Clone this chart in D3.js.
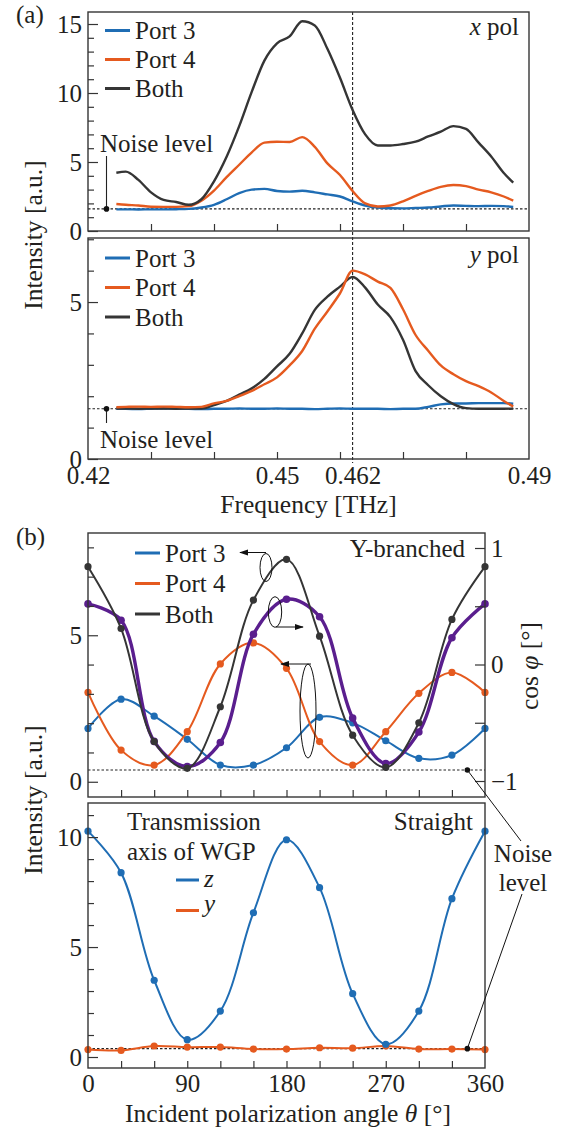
<!DOCTYPE html>
<html>
<head>
<meta charset="utf-8">
<script src="https://cdn.jsdelivr.net/npm/d3@7"></script>
<style>
body { margin: 0; background: #fff; }
</style>
</head>
<body>
<svg id="chart" width="563" height="1131"></svg>
<script>
// ---- (a) spectra, frequency in THz ----
var freq = [0.4245, 0.426, 0.428, 0.430, 0.432, 0.434, 0.436, 0.438, 0.440, 0.442, 0.444,
    0.446, 0.448, 0.450, 0.452, 0.454, 0.456, 0.458, 0.460, 0.462, 0.464, 0.466, 0.468,
    0.470, 0.472, 0.474, 0.476, 0.478, 0.480, 0.482, 0.484, 0.486, 0.4875];

var xPolPort3 = [1.57, 1.57, 1.56, 1.57, 1.57, 1.58, 1.6, 1.7, 1.9, 2.3, 2.75, 3.0, 3.05, 2.9,
    2.85, 2.92, 2.8, 2.65, 2.5, 2.15, 1.85, 1.7, 1.65, 1.64, 1.67, 1.7, 1.78, 1.85, 1.82,
    1.8, 1.82, 1.8, 1.75];
var xPolPort4 = [1.96, 1.9, 1.85, 1.76, 1.75, 1.75, 1.8, 2.2, 2.93, 3.9, 4.8, 5.7, 6.4, 6.47,
    6.45, 6.8, 6.1, 4.9, 4.06, 2.9, 2.0, 1.78, 1.85, 2.15, 2.55, 2.9, 3.2, 3.33, 3.25, 3.0,
    2.8, 2.5, 2.2];
var xPolBoth = [4.22, 4.3, 3.7, 2.8, 2.25, 2.1, 1.9, 2.3, 3.6, 5.38, 7.6, 10.1, 12.35, 13.6,
    14.1, 15.2, 14.9, 13.2, 11.1, 8.77, 7.0, 6.2, 6.2, 6.3, 6.47, 6.85, 7.2, 7.6, 7.4, 6.4,
    5.4, 4.2, 3.5];

var yPolPort3 = [1.6, 1.6, 1.59, 1.6, 1.61, 1.6, 1.6, 1.59, 1.6, 1.6, 1.61, 1.6, 1.6, 1.61,
    1.6, 1.6, 1.59, 1.6, 1.61, 1.6, 1.6, 1.6, 1.59, 1.6, 1.6, 1.66, 1.74, 1.77, 1.77, 1.78,
    1.78, 1.78, 1.76];
var yPolPort4 = [1.65, 1.66, 1.67, 1.66, 1.67, 1.66, 1.65, 1.66, 1.77, 1.85, 2.0, 2.17, 2.38,
    2.6, 2.98, 3.44, 4.15, 4.7, 5.28, 6.0, 5.88, 5.65, 5.45, 4.77, 3.95, 3.45, 2.98, 2.7,
    2.48, 2.32, 2.12, 1.85, 1.67];
var yPolBoth = [1.61, 1.61, 1.6, 1.61, 1.61, 1.6, 1.61, 1.61, 1.72, 1.85, 2.05, 2.25, 2.55,
    2.95, 3.35, 4.0, 4.75, 5.17, 5.49, 5.8, 5.46, 4.92, 4.52, 3.8, 2.8, 2.35, 2.0, 1.75,
    1.62, 1.6, 1.6, 1.6, 1.61];

var noiseA = 1.6;

// ---- (b) vs incident polarization angle ----
var angles = [0, 30, 60, 90, 120, 150, 180, 210, 240, 270, 300, 330, 360];
var ybPort3 = [1.82, 2.82, 2.24, 1.45, 0.57, 0.57, 1.16, 2.2, 2.01, 1.4, 0.8, 0.91, 1.82];
var ybPort4 = [3.05, 1.08, 0.57, 1.71, 4.02, 4.74, 3.87, 1.37, 0.57, 1.71, 3.02, 3.73, 3.05];
var ybBoth = [7.34, 5.23, 1.37, 0.46, 2.56, 6.2, 7.59, 4.97, 1.59, 0.49, 2.01, 5.54, 7.34];
var cosPhi = [0.52, 0.38, -0.66, -0.876, -0.67, 0.26, 0.56, 0.41, -0.46, -0.85, -0.58, 0.23, 0.52];
var straightZ = [10.27, 8.38, 3.49, 0.79, 2.09, 6.56, 9.88, 7.7, 2.88, 0.58, 2.09, 7.2, 10.27];
var straightY = [0.34, 0.3, 0.5, 0.45, 0.45, 0.36, 0.36, 0.42, 0.4, 0.5, 0.36, 0.36, 0.34];
var noiseYB = 0.4;
var noiseStraight = 0.38;
var noiseAngle = 344;

var blue = "#1f6db4", orange = "#e55a1f", dark = "#353535", purple = "#5a1e8e";
var textColor = "#231f20";
var serif = "Liberation Serif";

var svg = d3.select("#chart");

var xA = d3.scaleLinear().domain([0.42, 0.49]).range([88, 529]);
var yA1 = d3.scaleLinear().domain([0, 15.87]).range([231, 12]);
var yA2 = d3.scaleLinear().domain([0, 7.04]).range([459, 238]);
var xB = d3.scaleLinear().domain([0, 360]).range([88, 485]);
var yB1 = d3.scaleLinear().domain([-0.52, 8.49]).range([797, 533]);
var yCos = d3.scaleLinear().domain([-1, 1]).range([781, 548]);
var yB2 = d3.scaleLinear().domain([-0.5, 11.55]).range([1068, 803]);

function styleAxis(g) {
    g.attr("font-family", serif).attr("font-size", 25);
    g.select(".domain").remove();
    g.selectAll(".tick line").attr("stroke", dark).attr("stroke-width", 1.2);
    g.selectAll("text").attr("font-family", serif).attr("font-size", 25).attr("fill", textColor);
}

// left axis, every unit, label every 5
function leftAxis(y, max, x0) {
    var g = svg.append("g")
        .attr("transform", `translate(${x0},0)`)
        .call(d3.axisLeft(y).tickValues(d3.range(0, max + 1)).tickSize(-6).tickPadding(6)
            .tickFormat(d => d % 5 === 0 ? d : ""));
    styleAxis(g);
    g.selectAll(".tick line").filter(d => d % 5 === 0).attr("x2", 10);
}

function bottomTicks(x, vals, y0) {
    var g = svg.append("g")
        .attr("transform", `translate(0,${y0})`)
        .call(d3.axisBottom(x).tickValues(vals).tickSize(-7).tickFormat(""));
    styleAxis(g);
}

function bottomLabels(x, vals, y0, fmt) {
    var g = svg.append("g")
        .attr("transform", `translate(0,${y0})`)
        .call(d3.axisBottom(x).tickValues(vals).tickSize(0).tickPadding(6).tickFormat(fmt));
    styleAxis(g);
    g.selectAll(".tick line").remove();
}

function frame(x, y) {
    svg.append("rect")
        .attr("x", x.range()[0]).attr("y", y.range()[1])
        .attr("width", x.range()[1] - x.range()[0])
        .attr("height", y.range()[0] - y.range()[1])
        .attr("fill", "none").attr("stroke", dark).attr("stroke-width", 1.4);
}

function noiseLine(x, y, v) {
    svg.append("line")
        .attr("x1", x.range()[0]).attr("x2", x.range()[1])
        .attr("y1", y(v)).attr("y2", y(v))
        .attr("stroke", "#222").attr("stroke-width", 1.1).attr("stroke-dasharray", "2.5,2");
}

function spectrum(vals, y, color) {
    var line = d3.line().x((d, i) => xA(freq[i])).y(d => y(d)).curve(d3.curveMonotoneX);
    svg.append("path").attr("d", line(vals))
        .attr("fill", "none").attr("stroke", color).attr("stroke-width", 2.4);
}

function angleSeries(vals, y, color, w, r) {
    var line = d3.line().x((d, i) => xB(angles[i])).y(d => y(d)).curve(d3.curveCatmullRom);
    svg.append("path").attr("d", line(vals))
        .attr("fill", "none").attr("stroke", color).attr("stroke-width", w);
    svg.append("g").selectAll("circle").data(vals).enter().append("circle")
        .attr("cx", (d, i) => xB(angles[i])).attr("cy", d => y(d))
        .attr("r", r).attr("fill", color);
}

function label(x, y, txt, anchor, size) {
    return svg.append("text").attr("x", x).attr("y", y)
        .attr("text-anchor", anchor || "start")
        .attr("font-family", serif).attr("fill", textColor)
        .attr("font-size", size || 25).text(txt);
}

function vlabel(x, y, size) {
    return svg.append("text").attr("transform", `translate(${x},${y}) rotate(-90)`)
        .attr("font-family", serif).attr("fill", textColor)
        .attr("text-anchor", "middle").attr("font-size", size);
}

function legend(x, y, items) {
    items.forEach(function(it, i) {
        svg.append("line").attr("x1", x).attr("x2", x + 25)
            .attr("y1", y + i * it.gap).attr("y2", y + i * it.gap)
            .attr("stroke", it.color).attr("stroke-width", 3);
        label(x + 30, y + i * it.gap + 8.5, it.name);
    });
}

// ================= panel (a) =================
noiseLine(xA, yA1, noiseA);
noiseLine(xA, yA2, noiseA);

svg.append("line")
    .attr("x1", xA(0.462)).attr("x2", xA(0.462))
    .attr("y1", 12).attr("y2", 463)
    .attr("stroke", "#222").attr("stroke-width", 1.1).attr("stroke-dasharray", "3,2");

spectrum(xPolPort3, yA1, blue);
spectrum(xPolPort4, yA1, orange);
spectrum(xPolBoth, yA1, dark);
spectrum(yPolPort3, yA2, blue);
spectrum(yPolBoth, yA2, dark);
spectrum(yPolPort4, yA2, orange);

frame(xA, yA1);
frame(xA, yA2);
leftAxis(yA1, 15, 88);
leftAxis(yA2, 7, 88);
bottomTicks(xA, [0.43, 0.44, 0.45, 0.46, 0.47, 0.48], 231);
bottomTicks(xA, [0.43, 0.44, 0.45, 0.46, 0.47, 0.48], 459);
bottomLabels(xA, [0.42, 0.45, 0.462, 0.49], 460, d => d + "");

legend(105, 30.5, [
    {name: "Port 3", color: blue, gap: 29},
    {name: "Port 4", color: orange, gap: 29},
    {name: "Both", color: dark, gap: 29}
]);
legend(105, 258, [
    {name: "Port 3", color: blue, gap: 29.5},
    {name: "Port 4", color: orange, gap: 29.5},
    {name: "Both", color: dark, gap: 29.5}
]);

var xp = label(519, 35, "", "end");
xp.append("tspan").attr("font-style", "italic").text("x");
xp.append("tspan").text(" pol");
var yp = label(519, 263, "", "end");
yp.append("tspan").attr("font-style", "italic").text("y");
yp.append("tspan").text(" pol");

// noise level markers (a)
label(100, 152, "Noise level");
svg.append("line").attr("x1", 106.5).attr("x2", 106.5).attr("y1", 156).attr("y2", yA1(noiseA))
    .attr("stroke", "#222").attr("stroke-width", 1.1);
svg.append("circle").attr("cx", 106.5).attr("cy", yA1(noiseA)).attr("r", 2.8).attr("fill", "#111");
label(100, 448, "Noise level");
svg.append("line").attr("x1", 106.5).attr("x2", 106.5).attr("y1", yA2(noiseA)).attr("y2", 423)
    .attr("stroke", "#222").attr("stroke-width", 1.1);
svg.append("circle").attr("cx", 106.5).attr("cy", yA2(noiseA)).attr("r", 2.8).attr("fill", "#111");

label(16, 23, "(a)");
label(308.5, 513, "Frequency [THz]", "middle", 25.5);
vlabel(42, 235, 25.5).text("Intensity [a.u.]");

// ================= panel (b) =================
noiseLine(xB, yB1, noiseYB);
noiseLine(xB, yB2, noiseStraight);

angleSeries(ybPort3, yB1, blue, 2, 3.6);
angleSeries(ybPort4, yB1, orange, 2, 3.6);
angleSeries(cosPhi, yCos, purple, 3.4, 3.8);
angleSeries(ybBoth, yB1, dark, 2, 3.6);

angleSeries(straightY, yB2, orange, 2, 3.6);
angleSeries(straightZ, yB2, blue, 2, 3.6);

frame(xB, yB1);
frame(xB, yB2);
leftAxis(yB1, 8, 88);
leftAxis(yB2, 11, 88);
bottomTicks(xB, d3.range(30, 360, 30), 797);
bottomTicks(xB, d3.range(30, 360, 30), 1068);
bottomLabels(xB, [0, 90, 180, 270, 360], 1068, d => d);

var rg = svg.append("g")
    .attr("transform", "translate(485,0)")
    .call(d3.axisRight(yCos).tickValues([-1, -0.5, 0, 0.5, 1]).tickSize(-10).tickPadding(6)
        .tickFormat(d => d === -1 ? "\u22121" : (d % 1 === 0 ? d : "")));
styleAxis(rg);

// legend (b) with loops and arrows
legend(135, 553, [
    {name: "Port 3", color: blue, gap: 30.5},
    {name: "Port 4", color: orange, gap: 30.5},
    {name: "Both", color: dark, gap: 30.5}
]);

svg.append("defs").append("marker")
    .attr("id", "arr").attr("viewBox", "0 0 10 10").attr("refX", 9).attr("refY", 5)
    .attr("markerWidth", 9).attr("markerHeight", 9).attr("orient", "auto")
    .append("path").attr("d", "M0,1.5 L10,5 L0,8.5 Z").attr("fill", "#111");

var loops = [
    {cx: 266, cy: 567.5, rx: 6, ry: 14, ax1: 266, ax2: 240, ay: 552.5},
    {cx: 275, cy: 612, rx: 6.7, ry: 15.3, ax1: 276, ax2: 303, ay: 627},
    {cx: 308, cy: 711, rx: 8, ry: 47, ax1: 311, ax2: 281, ay: 664}
];
loops.forEach(function(l) {
    svg.append("ellipse").attr("cx", l.cx).attr("cy", l.cy).attr("rx", l.rx).attr("ry", l.ry)
        .attr("fill", "none").attr("stroke", "#111").attr("stroke-width", 1);
    svg.append("line").attr("x1", l.ax1).attr("x2", l.ax2).attr("y1", l.ay).attr("y2", l.ay)
        .attr("stroke", "#111").attr("stroke-width", 1).attr("marker-end", "url(#arr)");
});

label(465, 557, "Y-branched", "end");
label(473, 830, "Straight", "end");

label(127, 830, "Transmission");
label(127, 860, "axis of WGP");
svg.append("line").attr("x1", 176).attr("x2", 199).attr("y1", 880).attr("y2", 880)
    .attr("stroke", blue).attr("stroke-width", 3);
label(204, 887, "z").attr("font-style", "italic");
svg.append("line").attr("x1", 176).attr("x2", 199).attr("y1", 910.5).attr("y2", 910.5)
    .attr("stroke", orange).attr("stroke-width", 3);
label(204, 912, "y").attr("font-style", "italic");

// noise level markers (b)
svg.append("line").attr("x1", xB(noiseAngle)).attr("y1", yB1(noiseYB)).attr("x2", 521).attr("y2", 841)
    .attr("stroke", "#111").attr("stroke-width", 1);
svg.append("line").attr("x1", xB(noiseAngle)).attr("y1", yB2(noiseStraight)).attr("x2", 522).attr("y2", 894)
    .attr("stroke", "#111").attr("stroke-width", 1);
svg.append("circle").attr("cx", xB(noiseAngle)).attr("cy", yB1(noiseYB)).attr("r", 2.8).attr("fill", "#111");
svg.append("circle").attr("cx", xB(noiseAngle)).attr("cy", yB2(noiseStraight)).attr("r", 2.8).attr("fill", "#111");
label(523, 862, "Noise", "middle");
label(523, 891, "level", "middle");

label(16, 545, "(b)");
var xt = label(288, 1122, "Incident polarization angle ", "middle", 25.5);
xt.append("tspan").attr("font-style", "italic").text("\u03B8");
xt.append("tspan").text(" [\u00B0]");
vlabel(42, 800, 25.5).text("Intensity [a.u.]");
var ct = vlabel(538, 666, 25.5);
ct.append("tspan").text("cos ");
ct.append("tspan").attr("font-style", "italic").text("\u03C6");
ct.append("tspan").text(" [\u00B0]");
</script>
</body>
</html>
